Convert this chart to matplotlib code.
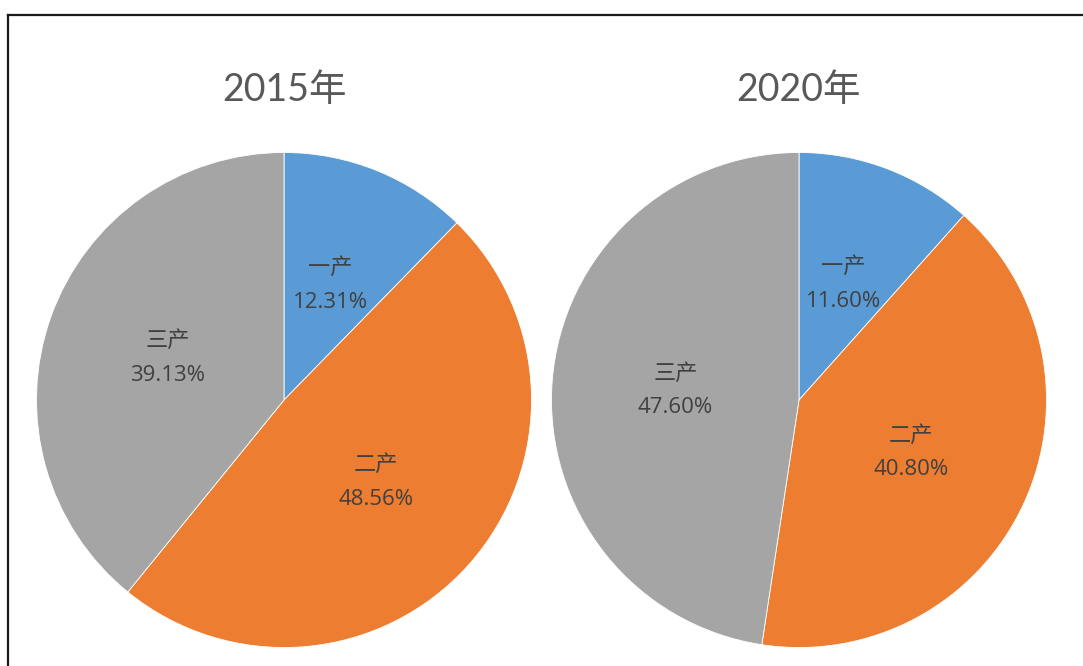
import matplotlib
matplotlib.use("Agg")
import matplotlib.pyplot as plt
from matplotlib.lines import Line2D

plt.rcParams['font.family'] = ['Noto Sans CJK SC', 'DejaVu Sans']

# data
sectors = ['一产', '二产', '三产']
years = ['2015年', '2020年']
share_2015 = [12.31, 48.56, 39.13]
share_2020 = [11.60, 40.80, 47.60]
colors = ['#5B9BD5', '#ED7D31', '#A5A5A5']

W, H = 1083, 666
fig = plt.figure(figsize=(W / 100, H / 100), dpi=100)

# pie centres / radius in pixels
r = 247.5
centres = [(284, 400), (799, 400)]

for (cx, cy), title, vals in zip(centres, years, [share_2015, share_2020]):
    ax = fig.add_axes([(cx - r) / W, (H - cy - r) / H, 2 * r / W, 2 * r / H])
    labels = ['%s\n%.2f%%' % (s, v) for s, v in zip(sectors, vals)]
    wedges, texts = ax.pie(vals, colors=colors, startangle=90, counterclock=False,
                           labels=labels, labeldistance=0.5,
                           wedgeprops=dict(edgecolor='white', linewidth=0.6),
                           textprops=dict(fontsize=16, color='#404040',
                                          family=['Open Sans', 'Noto Sans CJK SC']))
    for t in texts:
        t.set_ha('center')
        t.set_va('center')
        t.set_multialignment('center')
        t.set_linespacing(1.8)
    ax.set_xlim(-1, 1)
    ax.set_ylim(-1, 1)
    ax.set_aspect('equal')
    ax.axis('off')
    fig.text(cx / W, (H - 90) / H, title, ha='center', va='center',
             fontsize=27, color='#595959', family=['Lato', 'Noto Sans CJK SC'])

# frame lines (top and left)
fig.add_artist(Line2D([8 / W, 1], [(H - 15) / H, (H - 15) / H], color='#1a1a1a',
                      linewidth=1.6, transform=fig.transFigure))
fig.add_artist(Line2D([8 / W, 8 / W], [0, (H - 15) / H], color='#1a1a1a',
                      linewidth=1.6, transform=fig.transFigure))

fig.savefig('out.png', dpi=100, facecolor='white')
